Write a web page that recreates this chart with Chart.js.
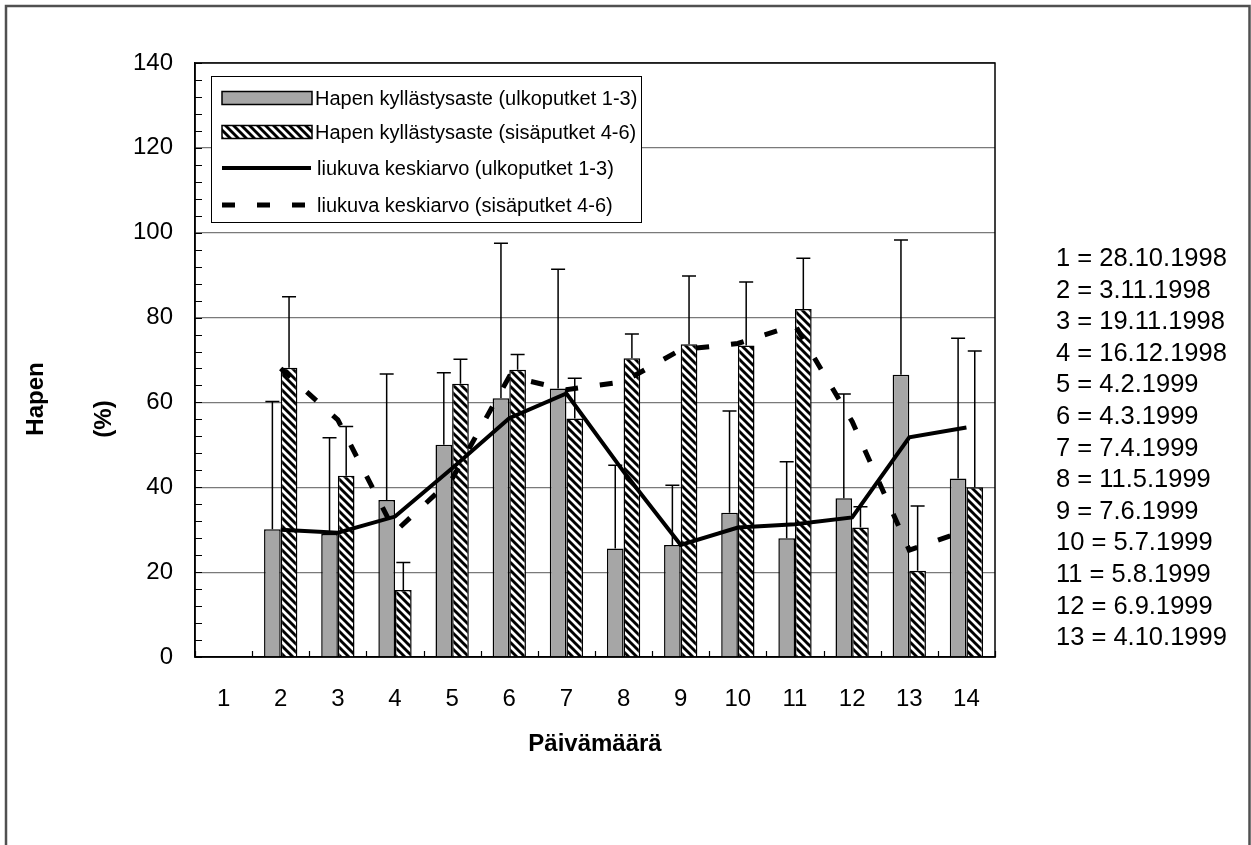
<!DOCTYPE html>
<html>
<head>
<meta charset="utf-8">
<script src="https://cdn.jsdelivr.net/npm/chart.js@4"></script>
<style>
  html, body { margin: 0; padding: 0; background: #fff; }
</style>
</head>
<body>
<canvas id="happi" width="1251" height="845"></canvas>
<script>
"use strict"

// päivämäärät 1-14 (kohta 1 ilman mittausta)
const days = ["1", "2", "3", "4", "5", "6", "7", "8", "9", "10", "11", "12", "13", "14"];

// hapen kyllästysaste, ulkoputket 1-3 ja keskihajonta
const outerSat = [null, 30.1, 29.0, 37.0, 50.0, 61.0, 63.3, 25.6, 26.4, 34.0, 28.0, 37.4, 66.5, 42.1];
const outerSd = [null, 30.1, 22.7, 29.7, 17.0, 36.5, 28.1, 19.6, 14.1, 24.0, 18.0, 24.6, 31.8, 33.0];

// hapen kyllästysaste, sisäputket 4-6 ja keskihajonta
const innerSat = [null, 68.2, 42.7, 15.8, 64.4, 67.7, 56.2, 70.4, 73.7, 73.4, 82.0, 30.5, 20.3, 40.0];
const innerSd = [null, 16.7, 11.6, 6.5, 5.8, 3.6, 9.5, 5.7, 16.1, 15.0, 12.0, 4.9, 15.3, 32.1];

// liukuvat keskiarvot
const outerAvg = [null, 30.0, 29.3, 33.1, 44.5, 56.3, 62.1, 43.7, 26.4, 30.5, 31.3, 32.9, 51.8, 54.1];
const innerAvg = [null, 68.0, 55.9, 29.5, 42.0, 66.1, 63.0, 64.9, 72.4, 73.9, 78.2, 55.5, 25.2, 29.9];

// selitteet oikealla
const dates = ["1 = 28.10.1998", "2 = 3.11.1998", "3 = 19.11.1998", "4 = 16.12.1998",
    "5 = 4.2.1999", "6 = 4.3.1999", "7 = 7.4.1999", "8 = 11.5.1999", "9 = 7.6.1999",
    "10 = 5.7.1999", "11 = 5.8.1999", "12 = 6.9.1999", "13 = 4.10.1999"];

const FONT = "'Liberation Sans', Arial, sans-serif";
const GREY = "#a6a6a6";

// vinoraitakuvio sisäputkien pylväisiin
function makeHatch() {
    const c = document.createElement("canvas");
    c.width = 8; c.height = 8;
    const g = c.getContext("2d");
    g.fillStyle = "#000";
    g.fillRect(0, 0, 8, 8);
    g.strokeStyle = "#fff";
    g.lineWidth = 2.8;
    g.beginPath();
    g.moveTo(-2, -2); g.lineTo(10, 10);
    g.moveTo(-10, -2); g.lineTo(2, 10);
    g.moveTo(6, -2); g.lineTo(18, 10);
    g.stroke();
    return g.createPattern(c, "repeat");
}
const hatch = makeHatch();

// keskihajonnat pylväiden päälle (vain ylöspäin)
const errorBars = {
    id: "errorBars",
    afterDatasetDraw(chart, args) {
        const sds = [outerSd, innerSd][args.index];
        if (!sds) return;
        const y = chart.scales.y;
        const ctx = chart.ctx;
        const meta = chart.getDatasetMeta(args.index);
        const vals = chart.data.datasets[args.index].data;
        ctx.save();
        ctx.strokeStyle = "#000";
        ctx.lineWidth = 1.5;
        meta.data.forEach((bar, i) => {
            if (vals[i] == null) return;
            const y0 = y.getPixelForValue(vals[i]);
            const y1 = y.getPixelForValue(vals[i] + sds[i]);
            ctx.beginPath();
            ctx.moveTo(bar.x, y0); ctx.lineTo(bar.x, y1);
            ctx.moveTo(bar.x - 7, y1); ctx.lineTo(bar.x + 7, y1);
            ctx.stroke();
        });
        ctx.restore();
    }
};

// kehykset, tikit, otsikot, selite ja päivämäärät
const frame = {
    id: "frame",
    beforeDraw(chart) {
        const ctx = chart.ctx;
        ctx.save();
        ctx.fillStyle = "#fff";
        ctx.fillRect(0, 0, chart.width, chart.height);
        ctx.restore();
    },
    afterDraw(chart) {
        const ctx = chart.ctx;
        const a = chart.chartArea;
        const x = chart.scales.x;
        const y = chart.scales.y;
        ctx.save();

        // ulkokehys
        ctx.strokeStyle = "#505050";
        ctx.lineWidth = 2.5;
        ctx.beginPath();
        ctx.moveTo(6, 850); ctx.lineTo(6, 6); ctx.lineTo(1249.5, 6); ctx.lineTo(1249.5, 850);
        ctx.stroke();

        // kuva-alueen reunat
        ctx.strokeStyle = "#000";
        ctx.lineWidth = 1.5;
        ctx.strokeRect(a.left, a.top, a.right - a.left, a.bottom - a.top);

        // y-akselin sisäänpäin osoittavat tikit
        ctx.lineWidth = 1.2;
        ctx.beginPath();
        for (let v = 0; v <= 140; v += 4) {
            const py = Math.round(y.getPixelForValue(v)) + 0.5;
            ctx.moveTo(a.left, py); ctx.lineTo(a.left + 7, py);
        }
        // x-akselin tikit luokkien rajoilla
        const step = (a.right - a.left) / days.length;
        for (let i = 0; i <= days.length; i++) {
            const px = Math.round(x.getPixelForValue(0) - step / 2 + i * step) + 0.5;
            ctx.moveTo(px, a.bottom); ctx.lineTo(px, a.bottom - 6);
        }
        ctx.stroke();

        // y-akselin otsikko kahdessa osassa
        ctx.fillStyle = "#000";
        ctx.textAlign = "center";
        ctx.textBaseline = "middle";
        ctx.font = "bold 24px " + FONT;
        ctx.save();
        ctx.translate(36, 399);
        ctx.rotate(-Math.PI / 2);
        ctx.fillText("Hapen", 0, 0);
        ctx.restore();
        ctx.save();
        ctx.translate(104, 419);
        ctx.rotate(-Math.PI / 2);
        ctx.fillText("(%)", 0, 0);
        ctx.restore();

        // päivämäärät oikealla
        ctx.textAlign = "left";
        ctx.font = "25.5px " + FONT;
        dates.forEach((d, i) => ctx.fillText(d, 1056, 259 + i * 31.6));

        // selite
        const lx = 211.5, ly = 76.5, lw = 430, lh = 146;
        ctx.fillStyle = "#fff";
        ctx.fillRect(lx, ly, lw, lh);
        ctx.strokeStyle = "#000";
        ctx.lineWidth = 1;
        ctx.strokeRect(lx, ly, lw, lh);

        const sets = chart.data.datasets;
        const rowY = [98, 132, 168, 205];
        ctx.font = "20px " + FONT;
        sets.forEach((ds, i) => {
            const cy = rowY[i];
            if (ds.type === "line") {
                ctx.strokeStyle = "#000";
                ctx.lineWidth = ds.borderWidth;
                ctx.setLineDash(ds.borderDash || []);
                ctx.beginPath();
                ctx.moveTo(222, cy); ctx.lineTo(311, cy);
                ctx.stroke();
                ctx.setLineDash([]);
            } else {
                ctx.fillStyle = ds.backgroundColor;
                ctx.fillRect(222, cy - 6.5, 90, 13);
                ctx.strokeStyle = "#000";
                ctx.lineWidth = 1.5;
                ctx.strokeRect(222, cy - 6.5, 90, 13);
            }
            ctx.fillStyle = "#000";
            ctx.fillText(ds.label, ds.type === "line" ? 317 : 315, cy + 1);
        });

        ctx.restore();
    }
};

new Chart(document.getElementById("happi"), {
    type: "bar",
    data: {
        labels: days,
        datasets: [
            {
                label: "Hapen kyllästysaste (ulkoputket 1-3)",
                data: outerSat,
                backgroundColor: GREY,
                borderColor: "#000",
                borderWidth: 1.5,
                order: 1
            },
            {
                label: "Hapen kyllästysaste (sisäputket 4-6)",
                data: innerSat,
                backgroundColor: hatch,
                borderColor: "#000",
                borderWidth: 1.5,
                order: 2
            },
            {
                type: "line",
                label: "liukuva keskiarvo (ulkoputket 1-3)",
                data: outerAvg,
                borderColor: "#000",
                borderWidth: 4,
                pointRadius: 0,
                tension: 0,
                order: 0
            },
            {
                type: "line",
                label: "liukuva keskiarvo (sisäputket 4-6)",
                data: innerAvg,
                borderColor: "#000",
                borderWidth: 5,
                borderDash: [13, 22],
                borderCapStyle: "butt",
                pointRadius: 0,
                tension: 0,
                order: 0
            }
        ]
    },
    options: {
        responsive: false,
        devicePixelRatio: 1,
        animation: false,
        categoryPercentage: 0.583,
        barPercentage: 1.0,
        layout: { padding: { left: 0, right: 256, top: 63, bottom: 0 } },
        plugins: {
            legend: { display: false },
            tooltip: { enabled: false }
        },
        scales: {
            x: {
                offset: true,
                grid: { display: false },
                border: { display: true, color: "#000", width: 1.5 },
                ticks: { color: "#000", padding: 20, font: { family: FONT, size: 24 }, autoSkip: false, maxRotation: 0 },
                title: {
                    display: true,
                    text: "Päivämäärä",
                    color: "#000",
                    font: { family: FONT, size: 24, weight: "bold" },
                    padding: { top: 0, bottom: 86 }
                },
                afterFit(scale) { scale.height = 188; }
            },
            y: {
                min: 0,
                max: 140,
                ticks: { stepSize: 20, color: "#000", padding: 22, font: { family: FONT, size: 24 } },
                grid: { color: "#7a7a7a", lineWidth: 1.2, drawTicks: false },
                border: { display: true, color: "#000", width: 1.5 },
                afterFit(scale) { scale.width = 195; }
            }
        }
    },
    plugins: [frame, errorBars]
});
</script>
</body>
</html>
